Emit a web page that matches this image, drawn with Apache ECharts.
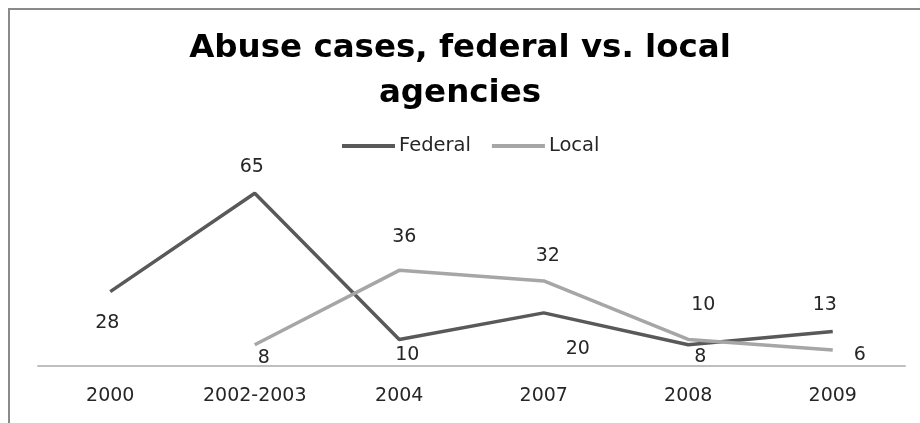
<!DOCTYPE html>
<html>
<head>
<meta charset="utf-8">
<script src="https://cdn.jsdelivr.net/npm/echarts@6/dist/echarts.min.js"></script>
<style>
  html, body { margin: 0; padding: 0; background: #fff; }
  #chart { width: 920px; height: 423px; }
</style>
</head>
<body>
<div id="chart"></div>
<script>
// Reporting periods
const periods = ['2000', '2002-2003', '2004', '2007', '2008', '2009'];
// Abuse cases handled by federal agencies
const federalCases = [28, 65, 10, 20, 8, 13];
// Abuse cases handled by local agencies (no figure for 2000)
const localCases = [null, 8, 36, 32, 10, 6];

// Where each value label sits relative to its point [dx, dy]
const federalLabelOffsets = [[-3, 31], [-3, -26], [8, 16], [34, 36], [12, 12], [-8, -26]];
const localLabelOffsets = [null, [9, 13], [5, -33], [4, -25], [15, -34], [27, 5]];

const labelFont = { fontFamily: 'DejaVu Sans', fontSize: 19, color: '#262626' };

function seriesData(values, offsets) {
  return values.map((v, i) => {
    if (v === null) return '-';
    return { value: v, label: { offset: offsets[i] } };
  });
}

const chart = echarts.init(document.getElementById('chart'), null, { renderer: 'canvas' });

chart.setOption({
  animation: false,
  backgroundColor: '#ffffff',
  title: {
    text: 'Abuse cases, federal vs. local\nagencies',
    left: 'center',
    top: 21,
    textStyle: {
      fontFamily: 'DejaVu Sans',
      fontWeight: 'bold',
      fontSize: 32.5,
      lineHeight: 45,
      color: '#000000'
    }
  },
  legend: {
    top: 131,
    left: 337,
    itemWidth: 53,
    itemHeight: 4,
    itemGap: 21,
    icon: 'rect',
    textStyle: { fontFamily: 'DejaVu Sans', fontSize: 19.5, color: '#262626', padding: [0, 0, 0, -1] },
    data: ['Federal', 'Local']
  },
  graphic: [{
    type: 'rect',
    shape: { x: 9, y: 9, width: 940, height: 440 },
    style: { fill: 'none', stroke: '#8a8a8a', lineWidth: 2 },
    silent: true
  }],
  grid: { left: 38, right: 15, top: 180, bottom: 57 },
  xAxis: {
    type: 'category',
    data: periods,
    boundaryGap: true,
    axisLine: { lineStyle: { color: '#bfbfbf', width: 2 } },
    axisTick: { show: false },
    axisLabel: { ...labelFont, margin: 21, interval: 0 }
  },
  yAxis: {
    type: 'value',
    min: 0,
    max: 70,
    show: false,
    splitLine: { show: false }
  },
  series: [
    {
      name: 'Federal',
      type: 'line',
      data: seriesData(federalCases, federalLabelOffsets),
      symbol: 'circle',
      symbolSize: 0,
      showSymbol: true,
      color: '#595959',
      lineStyle: { color: '#595959', width: 3.5 },
      label: { show: true, position: 'inside', ...labelFont }
    },
    {
      name: 'Local',
      type: 'line',
      data: seriesData(localCases, localLabelOffsets),
      symbol: 'circle',
      symbolSize: 0,
      showSymbol: true,
      connectNulls: false,
      color: '#a6a6a6',
      lineStyle: { color: '#a6a6a6', width: 3.5 },
      label: { show: true, position: 'inside', ...labelFont }
    }
  ]
});
</script>
</body>
</html>
